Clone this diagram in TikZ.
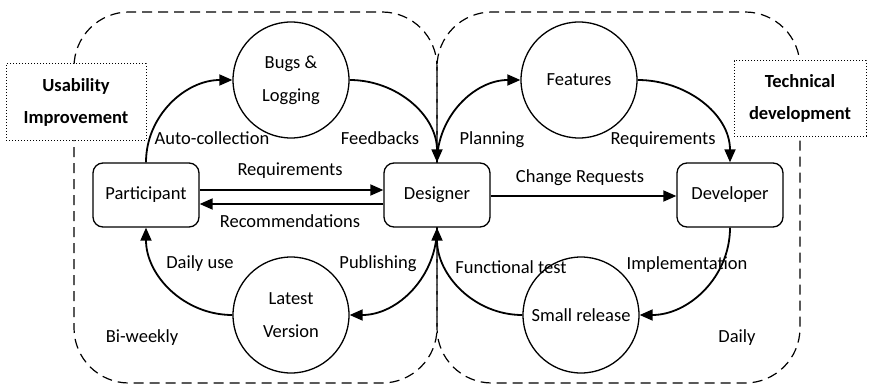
\documentclass[tikz,border=0pt]{standalone}
\usepackage{fontspec}
\setmainfont{Carlito}
\usetikzlibrary{arrows.meta}
\tikzset{
	actor/.style={draw,line width=1.3pt,rounded corners=10pt,fill=white,minimum width=106pt,minimum height=64pt,inner sep=0pt},
	artefact/.style={draw,circle,line width=1.3pt,fill=white,minimum size=116pt,inner sep=0pt,align=center},
	flow/.style={line width=1.8pt,-{Triangle[length=13pt,width=11pt]}},
	loopzone/.style={line width=1.2pt,dash pattern=on 10pt off 6pt,rounded corners=55pt},
	tag/.style={draw,dotted,line width=1pt,fill=white,align=center,inner sep=0pt,font=\bfseries\fontsize{18.5}{32}\selectfont},
}
\begin{document}
\begin{tikzpicture}[x=1pt,y=-1pt,font=\fontsize{18.5}{33}\selectfont]
	\useasboundingbox (0,0) rectangle (869,385);
	\def\yT{12};
	\def\yB{383};
	\def\xmid{437};
	% the two loops
	\draw[loopzone] (74,\yT) rectangle (\xmid,\yB);
	\draw[loopzone] (\xmid,\yT) rectangle (800,\yB);
	\node[tag,minimum width=140pt,minimum height=76pt] (usability) at (76,102) {Usability\\Improvement};
	\node[tag,minimum width=132pt,minimum height=75pt] (technical) at (800,98.5) {Technical\\development};
	% roles
	\node[actor] (participant) at (146,195) {Participant};
	\node[actor] (designer) at (\xmid,195) {Designer};
	\node[actor] (developer) at (730,195) {Developer};
	% artefacts
	\node[artefact] (bugs) at (291,80) {Bugs \&\\Logging};
	\node[artefact] (features) at (579,80) {Features};
	\node[artefact] (latest) at (291,315) {Latest\\Version};
	\node[artefact] (small) at (581,315) {Small release};
	% flows
	\draw[flow] (participant.north) to[out=90,in=180] (bugs.west);
	\draw[flow] (bugs.east) to[out=0,in=90] (designer.north);
	\draw[flow] (designer.north) to[out=90,in=180] (features.west);
	\draw[flow] (features.east) to[out=0,in=90] (developer.north);
	\draw[flow] ([yshift=5pt]participant.east) -- ([yshift=5pt]designer.west);
	\draw[flow] ([yshift=-9pt]designer.west) -- ([yshift=-9pt]participant.east);
	\draw[flow] ([yshift=-1pt]designer.east) -- ([yshift=-1pt]developer.west);
	\draw[flow] (latest.west) to[out=180,in=-90] (participant.south);
	\draw[flow] (designer.south) to[out=-90,in=0] (latest.east);
	\draw[flow] (developer.south) to[out=-90,in=0] (small.east);
	\draw[flow] (small.west) to[out=180,in=-90] (designer.south);
	% labels
	\node (autocol) at (212,138) {Auto-collection};
	\node (feedbacks) at (380,138) {Feedbacks};
	\node (reqleft) at (290,171) {Requirements};
	\node (recomm) at (290,221) {Recommendations};
	\node (planning) at (492,140) {Planning};
	\node (reqright) at (663,140) {Requirements};
	\node (change) at (580,178) {Change Requests};
	\node (dailyuse) at (200,264) {Daily use};
	\node (publishing) at (378,264) {Publishing};
	\node (biweekly) at (142,338) {Bi-weekly};
	\node (functest) at (511,267) {Functional test};
	\node (implement) at (687,265) {Implementation};
	\node (daily) at (737,338) {Daily};
\end{tikzpicture}
\end{document}
